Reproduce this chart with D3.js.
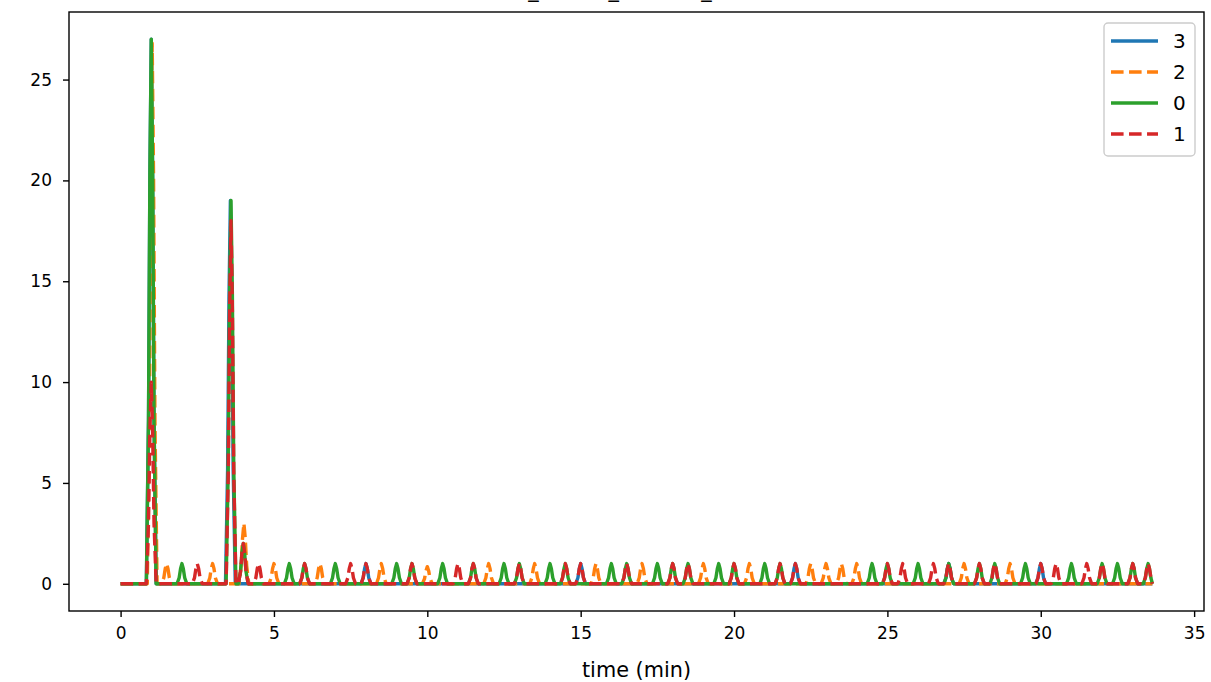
<!DOCTYPE html>
<html><head><meta charset="utf-8">
<script src="https://cdn.jsdelivr.net/npm/d3@7"></script>
<style>body{margin:0;background:#fff}svg{display:block}text{font-family:"DejaVu Sans",sans-serif;fill:#000}</style>
</head><body><svg id="c" width="1211" height="682"></svg>
<script>
// ---- data ----
const seriesNames = ["3", "2", "0", "1"];
const seriesColors = ["#1f77b4", "#ff7f0e", "#2ca02c", "#d62728"];
const seriesDashed = [false, true, false, true];
const endTime = 33.64;
// peaks: [time (min), height]
const peaks3 = [[1.0,27],[3.58,19],[8.0,1],[15.0,1],[22.0,1],[27.0,1],[30.0,1]];
const peaks2 = [[1.03,26.8],[1.5,1],[3.0,1],[4.02,3],[5.0,1],[6.5,1],[8.5,1],[10.0,0.85],[12.0,1],[13.5,1],[15.5,1],[17.0,1],[19.0,1],[20.5,1],[22.5,1],[23.0,1],[23.5,1],[24.0,1],[27.5,1],[29.0,1]];
const peaks0 = [[1.0,27],[2.0,1],[3.6,19],[4.0,2],[5.5,1],[6.0,1],[7.0,1],[9.0,1],[9.5,1],[10.5,1],[11.5,1],[12.5,1],[13.0,1],[14.0,1],[14.5,1],[16.0,1],[16.5,1],[17.5,1],[18.0,1],[18.5,1],[19.5,1],[20.0,1],[21.0,1],[21.5,1],[24.5,1],[25.0,1],[26.0,1],[27.0,1],[28.0,1],[28.5,1],[29.5,1],[31.0,1],[32.0,1],[32.5,1],[33.0,1],[33.5,1]];
const peaks1 = [[1.0,10],[2.5,1],[3.6,18],[4.0,2],[4.5,1],[6.0,1],[7.5,1],[8.0,1],[9.5,1],[11.0,1],[11.5,1],[13.0,1],[14.5,1],[15.0,1],[16.5,1],[18.0,1],[18.5,1],[20.0,1],[21.5,1],[22.0,1],[25.0,1],[25.5,1],[26.5,1],[27.0,1],[28.0,1],[28.5,1],[30.0,1],[30.5,1],[31.5,1],[32.0,1],[33.0,1],[33.5,1]];
// peak shape: time offsets and relative heights
const shapeOffsets = [-0.16,-0.09,-0.045,0,0.045,0.09,0.16];
const shapeRel = [0,0.3,0.75,1,0.75,0.3,0];
const xTicks = [0,5,10,15,20,25,30,35];
const yTicks = [0,5,10,15,20,25];
const titleText = "mass_events_channel_detector";
const xLabel = "time (min)";

const allPeaks = [peaks3, peaks2, peaks0, peaks1];
function buildSeries(pk){
  const pts = [[0,0]];
  pk.forEach(([t,h]) => shapeOffsets.forEach((o,i) => pts.push([t+o, h*shapeRel[i]])));
  pts.push([endTime,0]);
  return pts.filter(p => p[0] <= endTime && p[0] >= 0).sort((a,b)=>a[0]-b[0]);
}

const svg = d3.select("#c");
const L = 69, R = 1204, T = 12, B = 611;
const x = d3.scaleLinear().domain([-1.682, 35.322]).range([L, R]);
const y = d3.scaleLinear().domain([-1.35, 28.35]).range([B, T]);
const lw = 3.4;

svg.append("defs").append("clipPath").attr("id","clip")
  .append("rect").attr("x",L).attr("y",T).attr("width",R-L).attr("height",B-T);

// title (mostly clipped above the figure)
svg.append("text").attr("x",(L+R)/2).attr("y",-3.2).attr("text-anchor","middle")
  .style("font-size","20.8px").text(titleText);

const line = d3.line().x(d=>x(d[0])).y(d=>y(d[1]));
const g = svg.append("g").attr("clip-path","url(#clip)");
allPeaks.forEach((pk,i)=>{
  g.append("path").datum(buildSeries(pk)).attr("d",line)
    .attr("fill","none").attr("stroke",seriesColors[i]).attr("stroke-width",lw)
    .attr("stroke-linejoin","round")
    .attr("stroke-dasharray", seriesDashed[i] ? `${3.7*lw},${1.6*lw}` : null);
});

// axes
const xa = svg.append("g").attr("transform",`translate(0,${B})`)
  .call(d3.axisBottom(x).tickValues(xTicks).tickSize(6).tickPadding(10).tickFormat(d3.format("d")));
const ya = svg.append("g").attr("transform",`translate(${L},0)`)
  .call(d3.axisLeft(y).tickValues(yTicks).tickSize(6).tickPadding(11).tickFormat(d3.format("d")));
[xa,ya].forEach(a=>{
  a.select(".domain").remove();
  a.selectAll("line").attr("stroke","#000").attr("stroke-width",1.4);
  a.selectAll("text").style("font-size","17px").attr("font-family","DejaVu Sans");
});
svg.append("rect").attr("x",L).attr("y",T).attr("width",R-L).attr("height",B-T)
  .attr("fill","none").attr("stroke","#000").attr("stroke-width",1.4);

svg.append("text").attr("x",(L+R)/2).attr("y",677).attr("text-anchor","middle")
  .style("font-size","20.8px").text(xLabel);

// legend
const lg = svg.append("g");
lg.append("rect").attr("x",1104).attr("y",23).attr("width",91).attr("height",133).attr("rx",4)
  .attr("fill","#fff").attr("fill-opacity",0.8).attr("stroke","#cccccc").attr("stroke-width",1.4);
seriesNames.forEach((n,i)=>{
  const yy = 41 + i*31;
  lg.append("line").attr("x1",1111).attr("x2",1158).attr("y1",yy).attr("y2",yy)
    .attr("stroke",seriesColors[i]).attr("stroke-width",lw)
    .attr("stroke-dasharray", seriesDashed[i] ? `${3.7*lw},${1.6*lw}` : null);
  lg.append("text").attr("x",1173).attr("y",yy).attr("dy","0.36em").style("font-size","20px").text(n);
});
</script></body></html>
